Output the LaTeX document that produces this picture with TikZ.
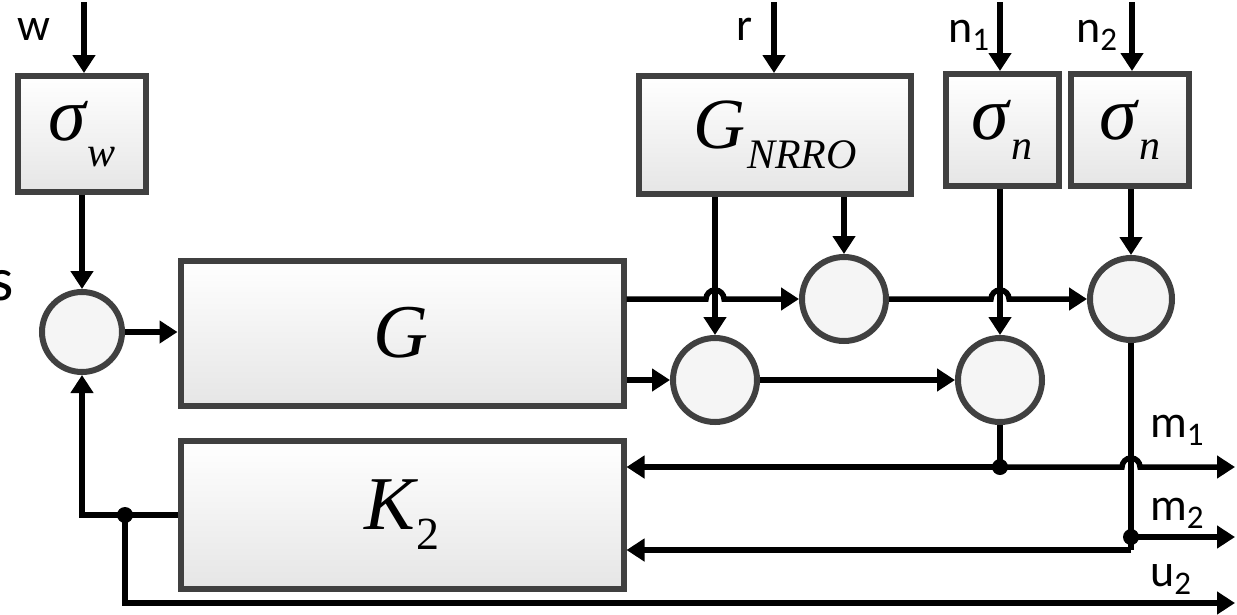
\documentclass[tikz,border=0pt]{standalone}
\usepackage{fontspec}
\setmainfont{Liberation Serif}
\newfontfamily\lblfont{Carlito}
\usetikzlibrary{arrows.meta,positioning}

% italic block symbol with lowered index: base, index, size, index size, drop
\newcommand{\blocksym}[5]{{\fontsize{#3}{#3}\selectfont\itshape #1\kern2pt\raisebox{-#5}{\fontsize{#4}{#4}\selectfont #2}}}
% signal label with index
\newcommand{\siglbl}[2]{#1\raisebox{-8pt}{\fontsize{33}{33}\selectfont #2}}

\begin{document}
\begin{tikzpicture}[x=1pt, y=-1pt,
    blk/.style={draw=black!75, line width=6pt, top color=white, bottom color=black!10, inner sep=0pt},
    sum/.style={circle, draw=black!75, line width=6pt, fill=black!4, minimum size=80pt, inner sep=0pt},
    sig/.style={line width=5.5pt, -{Triangle[length=18pt,width=22pt]}},
    wire/.style={line width=5.5pt},
    lbl/.style={font=\lblfont\fontsize{46}{46}\selectfont, inner sep=0pt},
    dot/.style={circle, fill=black, minimum size=16pt, inner sep=0pt}
]
\useasboundingbox (0,0) rectangle (1237,614);

% Blocks
\node[blk, minimum width=128pt, minimum height=116pt] (sigw) at (82,134) {\blocksym{σ}{w}{76}{42}{26pt}};
\node[blk, minimum width=443pt, minimum height=145pt] (G) at (402,333) {\blocksym{G}{}{76}{40}{0pt}};
\node[blk, minimum width=443pt, minimum height=148pt] (K2) at (402,515) {\blocksym{K}{\upshape 2}{76}{46}{20pt}};
\node[blk, minimum width=272pt, minimum height=118pt] (gnrro) at (775,135) {\blocksym{G}{NRRO}{72}{42}{20pt}};
\node[blk, minimum width=113pt, minimum height=112pt] (sign1) at (1002,130) {\blocksym{σ}{n}{76}{42}{20pt}};
\node[blk, minimum width=118pt, minimum height=112pt] (sign2) at (1130,130) {\blocksym{σ}{n}{76}{42}{20pt}};

% Summing junctions
\node[sum] (s0) at (82,332) {};
\node[sum, minimum size=84pt] (c1) at (844,299) {};
\node[sum, minimum size=84pt] (c2) at (715,380) {};
\node[sum, minimum size=84pt] (c3) at (1000,380) {};
\node[sum, minimum size=82pt] (c4) at (1131,299) {};

% Inputs
\coordinate (win) at (84,2);
\coordinate (rin) at (774,2);
\coordinate (n1in) at (1000,2);
\coordinate (n2in) at (1132,2);
\node[lbl, anchor=base west] (lw) at (17,40) {w};
\node[lbl, anchor=base west] (lr) at (736,40) {r};
\node[lbl, anchor=base west] (ln1) at (948,42) {\siglbl{n}{1}};
\node[lbl, anchor=base west] (ln2) at (1076,42) {\siglbl{n}{2}};
\node[lbl, font=\lblfont\fontsize{62}{62}\selectfont, anchor=base east] (ls) at (14,300) {s};
\draw[sig] (win) -- (win |- sigw.north);
\draw[sig] (rin) -- (rin |- gnrro.north);
\draw[sig] (n1in) -- (n1in |- sign1.north);
\draw[sig] (n2in) -- (n2in |- sign2.north);

% Crossing points and branch points
\coordinate (hop1) at (715,299);
\coordinate (hop2) at (1000,299);
\coordinate (hop3) at (1131,467);
\coordinate (j1) at (1000,467);
\coordinate (j2) at (1131,537);
\coordinate (bend2) at (1131,550);
\coordinate (j3) at (125,515);
\coordinate (m1end) at (1235,467);
\coordinate (m2end) at (1235,537);
\coordinate (u2end) at (1235,603);

% Plant path
\draw[sig] (sigw.south) -- (s0.north);
\draw[sig] (s0.east) -- (s0.east -| G.west);
\draw[sig] (G.east |- c1) -- ([xshift=-9pt]hop1) arc[start angle=180, end angle=0, radius=9pt] -- (c1.west);
\draw[sig] (G.east |- c2) -- (c2.west);
\draw[sig] (gnrro.south -| c2) -- (c2.north);
\draw[sig] (gnrro.south -| c1) -- (c1.north);
\draw[sig] (sign1.south -| c3) -- (c3.north);
\draw[sig] (sign2.south -| c4) -- (c4.north);
\draw[sig] (c1.east) -- ([xshift=-9pt]hop2) arc[start angle=180, end angle=0, radius=9pt] -- (c4.west);
\draw[sig] (c2.east) -- (c3.west);

% Measurements
\draw[wire] (c3.south) -- (j1);
\draw[sig] (j1) -- (j1 -| K2.east);
\draw[sig] (j1) -- ([xshift=-9pt]hop3) arc[start angle=180, end angle=0, radius=9pt] -- (m1end);
\draw[wire] (c4.south) -- (bend2);
\draw[sig] (bend2) -- (bend2 -| K2.east);
\draw[sig] (j2) -- (m2end);

% Control signal
\draw[sig] (K2.west) -- (s0 |- K2.west) -- (s0.south);
\draw[sig] (j3) -- (j3 |- u2end) -- (u2end);

% Branch dots
\node[dot] (d1) at (j1) {};
\node[dot] (d2) at (j2) {};
\node[dot] (d3) at (j3) {};

% Output labels
\node[lbl, anchor=base west] (lm1) at (1150,437) {\siglbl{m}{1}};
\node[lbl, anchor=base west] (lm2) at (1150,520) {\siglbl{m}{2}};
\node[lbl, anchor=base west] (lu2) at (1150,586) {\siglbl{u}{2}};

\end{tikzpicture}
\end{document}
